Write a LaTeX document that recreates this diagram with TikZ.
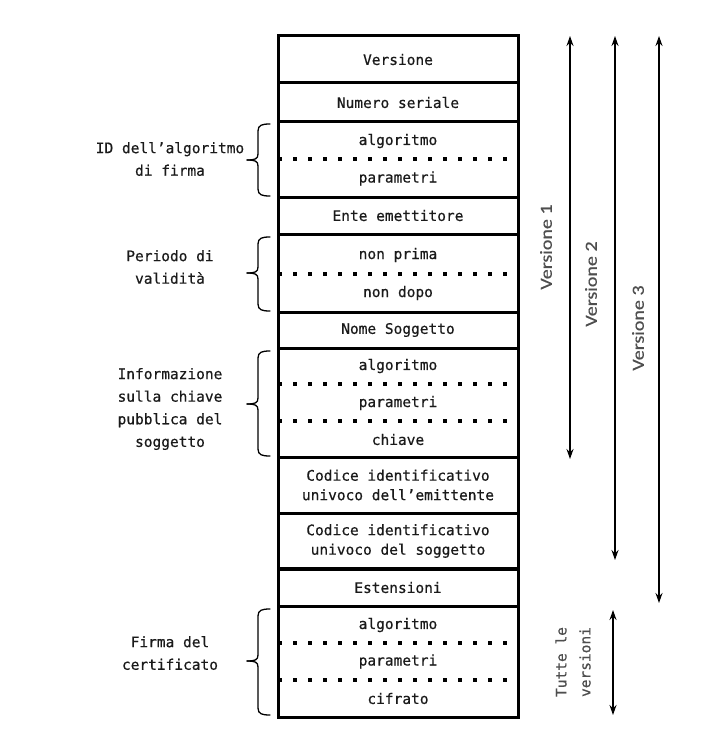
\documentclass[tikz,border=0pt]{standalone}
\usepackage{fontspec}
\usetikzlibrary{arrows.meta}
\newfontfamily\monof[FakeBold=0.5]{DejaVu Sans Mono}
\newfontfamily\carlf[FakeBold=0.4]{Carlito}
\definecolor{txt}{HTML}{1A1A1A}
\definecolor{grayv}{HTML}{4E4E4E}
\tikzset{
  cell/.style={draw=black, line width=3pt, minimum width=240pt, inner sep=0pt, text=txt,
    font=\monof\fontsize{14.5}{19.5}\selectfont, align=center},
  sub/.style={inner sep=0pt, text=txt, font=\monof\fontsize{14.5}{19.5}\selectfont},
  lab/.style={inner sep=0pt, text=txt, align=center, font=\monof\fontsize{14.5}{22.6}\selectfont},
  dotrow/.style={line width=3.4pt, dash pattern=on 3.4pt off 11.6pt},
  brc/.style={line width=1.3pt, line join=round, line cap=round},
  varrow/.style={line width=1.3pt, {Stealth[length=10pt,width=7pt]}-{Stealth[length=10pt,width=7pt]}},
  vlab/.style={inner sep=0pt, text=grayv, rotate=90, font=\carlf\fontsize{17}{20}\selectfont},
  tlab/.style={inner sep=0pt, text=grayv, rotate=90, align=center, font=\monof\fontsize{14.5}{24}\selectfont}
}
\newcommand\mybrace[3]{% top, mid, bottom
  \draw[brc] (270,#1) .. controls (262,#1) and (258,{#1+1}) .. (258,{#1+7})
    -- (258,{#2-6}) .. controls (258,{#2-1}) and (255,#2) .. (247,#2);
  \draw[brc] (270,#3) .. controls (262,#3) and (258,{#3-1}) .. (258,{#3-7})
    -- (258,{#2+6}) .. controls (258,{#2+1}) and (255,#2) .. (247,#2);
}
\begin{document}
\begin{tikzpicture}[x=1pt,y=-1pt]
\useasboundingbox[fill=white] (0,0) rectangle (721,749);

% cells
\node[cell, minimum height=47pt] (ver) at (398,59.5) {Versione};
\node[cell, minimum height=39pt] (num) at (398,102.5) {Numero seriale};
\node[cell, minimum height=75pt] (g1) at (398,159.5) {};
\node[cell, minimum height=37pt] (ente) at (398,215.5) {Ente emettitore};
\node[cell, minimum height=78pt] (g2) at (398,273) {};
\node[cell, minimum height=36pt] (nome) at (398,330) {Nome Soggetto};
\node[cell, minimum height=109pt] (g3) at (398,402.5) {};
\node[cell, minimum height=56pt] (cem) at (398,485) {Codice identificativo\\univoco dell’emittente};
\node[cell, minimum height=56pt] (cso) at (398,541) {Codice identificativo\\univoco del soggetto};
\node[cell, minimum height=38pt] (est) at (398,587.5) {Estensioni};
\node[cell, minimum height=111pt] (g4) at (398,662) {};

% sub-cells
\node[sub] (g1a) at (398,141) {algoritmo};
\node[sub] (g1b) at (398,178.5) {parametri};
\draw[dotrow] (278.3,159) -- (506.7,159);
\node[sub] (g2a) at (398,255) {non prima};
\node[sub] (g2b) at (398,293) {non dopo};
\draw[dotrow] (278.3,274) -- (506.7,274);
\node[sub] (g3a) at (398,366) {algoritmo};
\node[sub] (g3b) at (398,403) {parametri};
\node[sub] (g3c) at (398,439.5) {chiave};
\draw[dotrow] (278.3,384) -- (506.7,384);
\draw[dotrow] (278.3,421) -- (506.7,421);
\node[sub] (g4a) at (398,625) {algoritmo};
\node[sub] (g4b) at (398,661.5) {parametri};
\node[sub] (g4c) at (398,698.5) {cifrato};
\draw[dotrow] (278.3,643) -- (506.7,643);
\draw[dotrow] (278.3,680) -- (506.7,680);

% braces and labels
\mybrace{124}{160}{196}
\mybrace{237}{273}{311}
\mybrace{351}{404}{456}
\mybrace{609}{661}{715}
\node[lab] (l1) at (170,159) {ID dell’algoritmo\\di firma};
\node[lab] (l2) at (170,267) {Periodo di\\validità};
\node[lab] (l3) at (170,409) {Informazione\\sulla chiave\\pubblica del\\soggetto};
\node[lab] (l4) at (170,653) {Firma del\\certificato};

% version arrows
\coordinate (v1t) at (570,36);  \coordinate (v1b) at (570,459);
\coordinate (v2t) at (615,36);  \coordinate (v2b) at (615,560);
\coordinate (v3t) at (659,36);  \coordinate (v3b) at (659,603);
\coordinate (vat) at (613,610); \coordinate (vab) at (613,715);
\draw[varrow] (v1t) -- (v1b);
\draw[varrow] (v2t) -- (v2b);
\draw[varrow] (v3t) -- (v3b);
\draw[varrow] (vat) -- (vab);
\node[vlab] (v1l) at (546,247) {\scalebox{1.18}[1]{Versione 1}};
\node[vlab] (v2l) at (591,284) {\scalebox{1.18}[1]{Versione 2}};
\node[vlab] (v3l) at (638,328) {\scalebox{1.18}[1]{Versione 3}};
\node[tlab] (tl) at (573,662) {Tutte le\\versioni};
\end{tikzpicture}
\end{document}
